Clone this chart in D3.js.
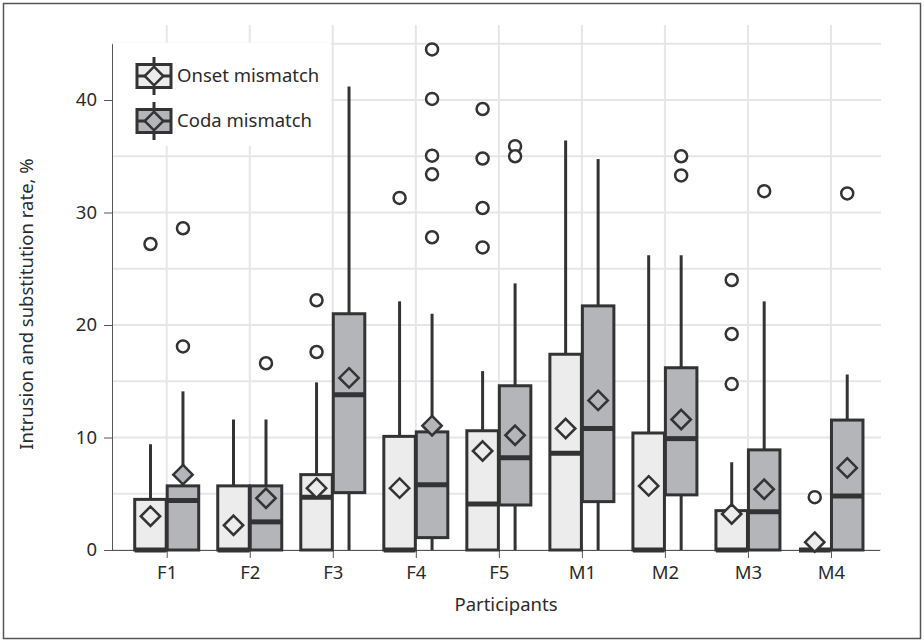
<!DOCTYPE html>
<html>
<head>
<meta charset="utf-8">
<script src="https://cdn.jsdelivr.net/npm/d3@7"></script>
<style>
  body { margin: 0; background: #fff; }
  text { font-family: "Noto Sans", "Open Sans", sans-serif; fill: #2b2b2b; }
</style>
</head>
<body>
<div id="chart"></div>
<script>
let w = 924,
    h = 643;

let categories = ["F1", "F2", "F3", "F4", "F5", "M1", "M2", "M3", "M4"];
let seriesNames = ["Onset mismatch", "Coda mismatch"];
let yTicks = [0, 10, 20, 30, 40];
let gridTicks = [0, 5, 10, 15, 20, 25, 30, 35, 40, 45];

// onset mismatch
let onsetLow = [0, 0, 0, 0, 0, 0, 0, 0, 0];
let onsetQ1 = [0, 0, 0, 0, 0, 0, 0, 0, 0];
let onsetMedian = [0, 0, 4.7, 0, 4.1, 8.6, 0, 0, 0];
let onsetQ3 = [4.5, 5.7, 6.7, 10.1, 10.6, 17.4, 10.4, 3.5, 0];
let onsetHigh = [9.4, 11.6, 14.9, 22.1, 15.9, 36.4, 26.2, 7.8, 0];
let onsetMean = [3.0, 2.2, 5.5, 5.5, 8.8, 10.8, 5.7, 3.2, 0.7];
let onsetOutliers = [[27.2], [], [22.2, 17.6], [31.3], [39.2, 34.8, 30.4, 26.9], [], [], [24.0, 19.2, 14.75], [4.7]];

// coda mismatch
let codaLow = [0, 0, 0, 0, 0, 0, 0, 0, 0];
let codaQ1 = [0, 0, 5.1, 1.1, 4.0, 4.3, 4.9, 0, 0];
let codaMedian = [4.4, 2.5, 13.8, 5.8, 8.2, 10.8, 9.9, 3.4, 4.8];
let codaQ3 = [5.7, 5.7, 21.0, 10.5, 14.6, 21.7, 16.2, 8.9, 11.55];
let codaHigh = [14.1, 11.6, 41.2, 21.0, 23.7, 34.75, 26.2, 22.1, 15.6];
let codaMean = [6.7, 4.6, 15.3, 11.05, 10.2, 13.3, 11.6, 5.4, 7.3];
let codaOutliers = [[28.6, 18.1], [16.6], [], [44.5, 40.1, 35.05, 33.4, 27.8], [35.9, 35.0], [], [35.0, 33.3], [31.9], [31.7]];

let fills = ["#ececec", "#b4b5b9"];
let dark = "#333";

// build box records from the arrays
let boxes = [];
categories.forEach((c, i) => {
  boxes.push({cat: c, s: seriesNames[0], fill: fills[0], low: onsetLow[i], q1: onsetQ1[i], med: onsetMedian[i], q3: onsetQ3[i], high: onsetHigh[i], mean: onsetMean[i], out: onsetOutliers[i]});
  boxes.push({cat: c, s: seriesNames[1], fill: fills[1], low: codaLow[i], q1: codaQ1[i], med: codaMedian[i], q3: codaQ3[i], high: codaHigh[i], mean: codaMean[i], out: codaOutliers[i]});
});

let plot = {left: 112, right: 881, bottom: 550, top: 25};

let x = d3.scalePoint()
          .domain(categories)
          .range([125.2, 872.5])
          .padding(0.5);

let xs = d3.scaleBand()
           .domain(seriesNames)
           .range([-32, 32])
           .paddingInner(0.03);

let y = d3.scaleLinear()
          .domain([0, 45])
          .range([plot.bottom, 43.75]);

let svg = d3.select("#chart")
            .append("svg")
            .attr("width", w)
            .attr("height", h);

// outer frame
svg.append("rect")
   .attr("x", 3.5).attr("y", 3.5)
   .attr("width", w - 7).attr("height", h - 8)
   .attr("fill", "#fff")
   .attr("stroke", "#555")
   .attr("stroke-width", 1.5);

// grid
let grid = svg.append("g").attr("stroke", "#e6e6ea").attr("stroke-width", 2);
grid.selectAll(".hg")
    .data(gridTicks)
    .enter()
    .append("line")
    .attr("x1", plot.left).attr("x2", plot.right)
    .attr("y1", d => y(d)).attr("y2", d => y(d));
grid.selectAll(".vg")
    .data(categories)
    .enter()
    .append("line")
    .attr("x1", d => x(d)).attr("x2", d => x(d))
    .attr("y1", plot.top).attr("y2", plot.bottom);

// legend background hides the grid behind it
svg.append("rect")
   .attr("x", plot.left + 1).attr("y", y(45) - 1)
   .attr("width", 218).attr("height", 103)
   .attr("fill", "#fff");

// axes
let yAxis = svg.append("g")
   .attr("transform", "translate(" + plot.left + ",0)")
   .call(d3.axisLeft(y).tickValues(yTicks).tickSize(8).tickPadding(7).tickSizeOuter(0));
yAxis.select(".domain").attr("stroke", "#555");
yAxis.selectAll(".tick line").attr("stroke", "#555");
yAxis.selectAll("text").style("font-size", "18.5px").attr("fill", "#2b2b2b");

let xAxis = svg.append("g")
   .attr("transform", "translate(0," + plot.bottom + ")")
   .call(d3.axisBottom(x).tickSize(8).tickPadding(8).tickSizeOuter(0));
xAxis.select(".domain").attr("d", "M" + plot.left + ",0.5H880").attr("stroke", "#555");
xAxis.selectAll(".tick line").attr("stroke", "#555");
xAxis.selectAll("text").style("font-size", "18.5px").attr("fill", "#2b2b2b");

svg.append("text")
   .attr("x", 506).attr("y", 611)
   .attr("text-anchor", "middle")
   .style("font-size", "18.5px")
   .text("Participants");

svg.append("text")
   .attr("transform", "translate(33,304) rotate(-90)")
   .attr("text-anchor", "middle")
   .style("font-size", "18.5px")
   .text("Intrusion and substitution rate, %");

// boxes
let bw = xs.bandwidth();
let g = svg.selectAll(".box")
           .data(boxes)
           .enter()
           .append("g")
           .attr("class", "box")
           .attr("transform", d => "translate(" + (x(d.cat) + xs(d.s)) + ",0)");

// whiskers
g.append("line")
 .attr("x1", bw / 2).attr("x2", bw / 2)
 .attr("y1", d => y(d.q3)).attr("y2", d => y(d.high))
 .attr("stroke", dark).attr("stroke-width", 3);
g.filter(d => d.q1 > d.low)
 .append("line")
 .attr("x1", bw / 2).attr("x2", bw / 2)
 .attr("y1", d => y(d.q1)).attr("y2", d => y(d.low))
 .attr("stroke", dark).attr("stroke-width", 3);

g.append("rect")
 .attr("x", 0).attr("width", bw)
 .attr("y", d => y(d.q3))
 .attr("height", d => y(d.q1) - y(d.q3))
 .attr("fill", d => d.fill)
 .attr("stroke", dark)
 .attr("stroke-width", 3);

g.append("line")
 .attr("x1", 0).attr("x2", bw)
 .attr("y1", d => y(d.med)).attr("y2", d => y(d.med))
 .attr("stroke", dark).attr("stroke-width", 5);

let diamond = d3.symbol().type(d3.symbolDiamond2).size(240);

g.append("path")
 .attr("d", diamond)
 .attr("transform", d => "translate(" + bw / 2 + "," + y(d.mean) + ")")
 .attr("fill", d => d.fill)
 .attr("stroke", dark)
 .attr("stroke-width", 2.5);

g.selectAll(".outlier")
 .data(d => d.out)
 .enter()
 .append("circle")
 .attr("cx", bw / 2)
 .attr("cy", d => y(d))
 .attr("r", 6)
 .attr("fill", "#fff")
 .attr("stroke", dark)
 .attr("stroke-width", 2.5);

// legend
let legend = svg.selectAll(".legend")
                .data(seriesNames)
                .enter()
                .append("g")
                .attr("class", "legend")
                .attr("transform", (d, i) => "translate(154," + (76 + i * 45) + ")");

legend.append("line")
      .attr("y1", -19).attr("y2", 19)
      .attr("stroke", dark).attr("stroke-width", 3);
legend.append("rect")
      .attr("x", -17).attr("y", -11.5)
      .attr("width", 34).attr("height", 23)
      .attr("fill", (d, i) => fills[i])
      .attr("stroke", dark).attr("stroke-width", 3);
legend.append("line")
      .attr("x1", -17).attr("x2", 17)
      .attr("stroke", dark).attr("stroke-width", 3);
legend.append("path")
      .attr("d", d3.symbol().type(d3.symbolDiamond2).size(220))
      .attr("fill", (d, i) => fills[i])
      .attr("stroke", dark).attr("stroke-width", 2.5);
legend.append("text")
      .attr("x", 23).attr("y", 0)
      .attr("dy", "0.35em")
      .style("font-size", "18.5px")
      .text(d => d);
</script>
</body>
</html>
